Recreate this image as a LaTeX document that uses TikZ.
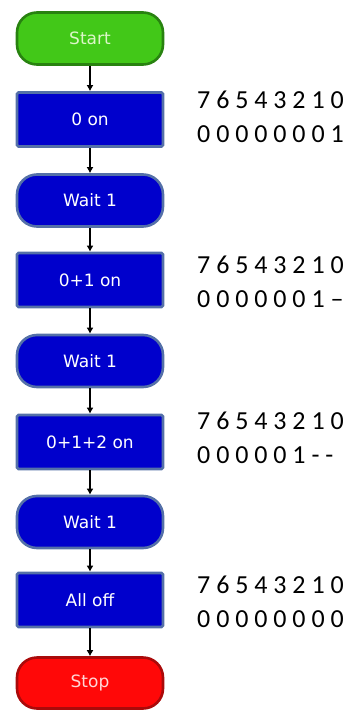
\documentclass[tikz,border=0pt]{standalone}
\usepackage{fontspec}
\setmainfont{Carlito}
\newfontfamily\chartfont{DejaVu Sans}
\usetikzlibrary{arrows.meta}

\definecolor{startfill}{RGB}{66,200,24}
\definecolor{startedge}{RGB}{40,130,16}
\definecolor{starttext}{RGB}{220,246,200}
\definecolor{boxfill}{RGB}{0,0,204}
\definecolor{boxedge}{RGB}{84,112,168}
\definecolor{stopfill}{RGB}{255,8,8}
\definecolor{stopedge}{RGB}{170,10,10}
\definecolor{stoptext}{RGB}{255,214,214}

\begin{document}
\begin{tikzpicture}[x=1pt,y=-1pt]
      \tikzset{chart shape/.style={draw=#1,
          line width=2.6pt,
          minimum width=146pt,
          font=\chartfont\fontsize{17}{20}\selectfont},
        action box/.style={chart shape=boxedge,
          fill=boxfill,
          text=white,
          minimum height=54pt,
          rounded corners=1.5pt},
        wait box/.style={chart shape=boxedge,
          fill=boxfill,
          text=white,
          minimum height=52pt,
          rounded corners=20pt},
        bit row/.style={anchor=base west,
          inner sep=0pt,
          font=\fontsize{26}{30}\selectfont},
        flow arrow/.style={line width=1.3pt,
          -{Latex[length=6pt,width=7pt]}}
      }
      \useasboundingbox (0,0) rectangle (352,711);

      \node [chart shape=startedge,fill=startfill,text=starttext,
        minimum height=52pt,rounded corners=20pt] (start) at (90,38.5) {Start};
      \node [action box] (on0) at (90,119.5) {0 on};
      \node [wait box] (wait1) at (90,200.5) {Wait 1};
      \node [action box] (on01) at (90,280) {0+1 on};
      \node [wait box] (wait2) at (90,361) {Wait 1};
      \node [action box] (on012) at (90,442) {0+1+2 on};
      \node [wait box] (wait3) at (90,522) {Wait 1};
      \node [action box] (alloff) at (90,600) {All off};
      \node [chart shape=stopedge,fill=stopfill,text=stoptext,
        minimum height=51pt,rounded corners=20pt] (stop) at (90,683) {Stop};

      \foreach \a/\b in {start/on0,on0/wait1,wait1/on01,on01/wait2,
          wait2/on012,on012/wait3,wait3/alloff,alloff/stop}
        \draw [flow arrow] (\a) -- (\b);

      % port bits beside each output block
      \node [bit row] (bitsA) at (197,109) {7 6 5 4 3 2 1 0};
      \node [bit row] (valA) at (197,143) {0 0 0 0 0 0 0 1};
      \node [bit row] (bitsB) at (197,273) {7 6 5 4 3 2 1 0};
      \node [bit row] (valB) at (197,307) {0 0 0 0 0 0 1 –};
      \node [bit row] (bitsC) at (197,429) {7 6 5 4 3 2 1 0};
      \node [bit row] (valC) at (197,463) {0 0 0 0 0 1 - -};
      \node [bit row] (bitsD) at (197,593) {7 6 5 4 3 2 1 0};
      \node [bit row] (valD) at (197,627) {0 0 0 0 0 0 0 0};
    \end{tikzpicture}
\end{document}
